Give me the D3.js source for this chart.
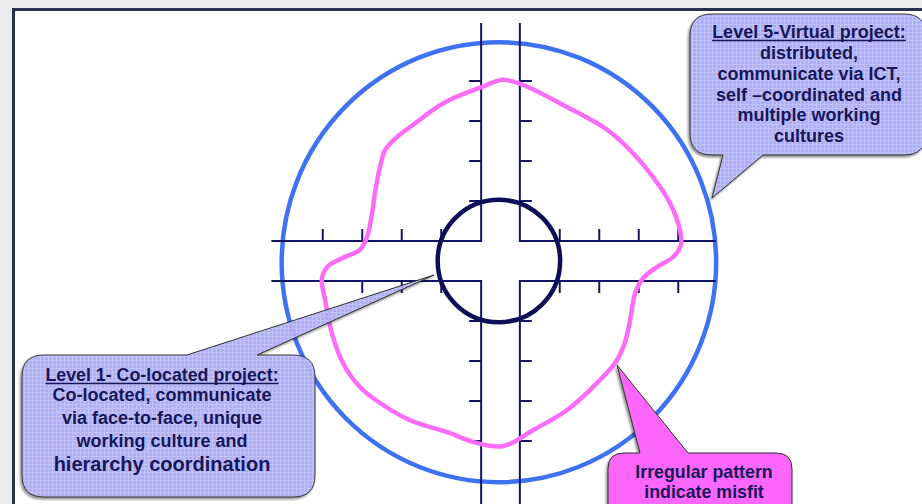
<!DOCTYPE html>
<html>
<head>
<meta charset="utf-8">
<script src="https://cdn.jsdelivr.net/npm/d3@7"></script>
<style>
  body { margin: 0; background: #ebebeb; }
  svg { display: block; }
  .callout text { font-family: "Liberation Sans", Arial, sans-serif; font-weight: bold; fill: #17175a; }
</style>
</head>
<body>
<div id="chart"></div>
<script>
// tick positions along each arm of the cross (in tick units from centre)
const xTicks = [-4.5, -3.5, -2.5, -1.5, 1.5, 2.5, 3.5, 4.5];
const yTicks = [-4.5, -3.5, -2.5, -1.5, 1.5, 2.5, 3.5, 4.5];

// ring sizes (same units)
const innerRing = 1.55;
const outerRing = 5.5;

// the irregular profile of a project, clockwise from the top
const profileX = [0.06, 0.57, 1.68, 2.70, 3.35, 3.86, 4.29, 4.54, 4.57, 4.37, 3.96, 3.61, 3.41, 3.28,
  3.13, 2.90, 2.34, 1.68, 0.82, 0.06, -0.77, -1.28, -2.29, -3.05, -3.56, -3.99, -4.27, -4.44,
  -4.52, -4.37, -3.99, -3.56, -3.38, -3.25, -3.18, -3.05, -2.92, -2.62, -2.11, -1.71, -1.28, -0.47];
const profileY = [4.53, 4.40, 3.85, 3.28, 2.70, 2.10, 1.45, 0.78, 0.40, 0.10, -0.15, -0.43, -0.80, -1.48,
  -2.10, -2.55, -3.15, -3.73, -4.23, -4.63, -4.50, -4.30, -3.98, -3.55, -3.15, -2.55, -1.80, -0.98,
  -0.43, -0.13, 0.08, 0.28, 0.60, 1.20, 1.70, 2.35, 2.78, 3.10, 3.48, 3.78, 4.03, 4.35];

// callout texts
const level5Title = 'Level 5-Virtual project:';
const level5Lines = ['distributed,', 'communicate via ICT,', 'self \u2013coordinated and', 'multiple working', 'cultures'];
const level1Title = 'Level 1- Co-located project:';
const level1Lines = ['Co-located, communicate', 'via face-to-face, unique', 'working culture and'];
const level1Last = 'hierarchy coordination';
const misfitLines = ['Irregular pattern', 'indicate misfit'];

const width = 922, height = 504;

const svg = d3.select('#chart').append('svg')
    .attr('width', width)
    .attr('height', height);

// slide frame
svg.append('rect')
    .attr('x', 0).attr('y', 0).attr('width', width).attr('height', height)
    .attr('fill', '#ebebeb');
svg.append('rect')
    .attr('x', 13.5).attr('y', 9.5).attr('width', width + 20).attr('height', height + 20)
    .attr('fill', '#fff')
    .attr('stroke', '#28304d')
    .attr('stroke-width', 3);

// scales: one unit = one tick step
const x = d3.scaleLinear().domain([-6, 6]).range([500.5 - 6 * 39.5, 500.5 + 6 * 39.5]);
const y = d3.scaleLinear().domain([-6, 6]).range([261 + 6 * 40, 261 - 6 * 40]);

const g = svg.append('g');

// outer ring (level 5)
g.append('ellipse')
    .attr('cx', x(-0.04)).attr('cy', y(-0.03))
    .attr('rx', x(outerRing) - x(0)).attr('ry', y(0) - y(outerRing))
    .attr('fill', 'none')
    .attr('stroke', '#3f72f3')
    .attr('stroke-width', 4.5);

// cross shaped axes
const half = 0.5, hw = 0.49;
const armL = -5.8, armR = 5.45, armT = 5.95, armB = -6.2;
const cross = [
    [[armL, half], [-hw, half], [-hw, armT]],
    [[hw, armT], [hw, half], [armR, half]],
    [[armR, -half], [hw, -half], [hw, armB]],
    [[-hw, armB], [-hw, -half], [armL, -half]]
];
const axisLine = d3.line().x(d => x(d[0])).y(d => y(d[1]));
g.selectAll('.arm')
    .data(cross)
    .join('path')
    .attr('class', 'arm')
    .attr('d', axisLine)
    .attr('fill', 'none')
    .attr('stroke', '#141466')
    .attr('stroke-width', 2);

const tickLen = 12;
// ticks on horizontal arms: up on upper line, down on lower line
g.selectAll('.tick-up')
    .data(xTicks)
    .join('line')
    .attr('x1', d => x(d)).attr('x2', d => x(d))
    .attr('y1', y(half)).attr('y2', y(half) - tickLen)
    .attr('stroke', '#141466').attr('stroke-width', 2);
g.selectAll('.tick-down')
    .data(xTicks)
    .join('line')
    .attr('x1', d => x(d)).attr('x2', d => x(d))
    .attr('y1', y(-half)).attr('y2', y(-half) + tickLen)
    .attr('stroke', '#141466').attr('stroke-width', 2);
// ticks on vertical arms: left on left line, right on right line
g.selectAll('.tick-left')
    .data(yTicks)
    .join('line')
    .attr('y1', d => y(d)).attr('y2', d => y(d))
    .attr('x1', x(-hw)).attr('x2', x(-hw) - tickLen)
    .attr('stroke', '#141466').attr('stroke-width', 2);
g.selectAll('.tick-right')
    .data(yTicks)
    .join('line')
    .attr('y1', d => y(d)).attr('y2', d => y(d))
    .attr('x1', x(hw)).attr('x2', x(hw) + tickLen)
    .attr('stroke', '#141466').attr('stroke-width', 2);

// irregular profile
const profile = profileX.map((v, i) => [v, profileY[i]]);
g.append('path')
    .datum(profile)
    .attr('d', d3.line().x(d => x(d[0])).y(d => y(d[1])).curve(d3.curveCatmullRomClosed.alpha(0.5)))
    .attr('fill', 'none')
    .attr('stroke', '#fd6cf9')
    .attr('stroke-width', 4.5);

// inner ring (level 1)
g.append('circle')
    .attr('cx', x(-0.04)).attr('cy', y(0))
    .attr('r', x(innerRing) - x(0))
    .attr('fill', 'none')
    .attr('stroke', '#0e0e58')
    .attr('stroke-width', 4.5);

// callouts
const defs = svg.append('defs');
const pat = defs.append('pattern')
    .attr('id', 'grid')
    .attr('width', 4).attr('height', 4)
    .attr('patternUnits', 'userSpaceOnUse');
pat.append('rect').attr('width', 4).attr('height', 4).attr('fill', '#aeaefa');
pat.append('path').attr('d', 'M0,0.5H4M0.5,0V4').attr('stroke', '#c2c2fd').attr('stroke-width', 1);

const shadow = defs.append('filter').attr('id', 'shadow')
    .attr('x', '-10%').attr('y', '-10%').attr('width', '130%').attr('height', '130%');
shadow.append('feDropShadow')
    .attr('dx', -1.5).attr('dy', 2).attr('stdDeviation', 0.8)
    .attr('flood-color', '#000').attr('flood-opacity', 0.45);

// rounded box with a tail leaving one horizontal side
function bubble(x0, y0, x1, y1, r, tail) {
    const p = d3.path();
    p.moveTo(x0 + r, y0);
    if (tail.side === 'top') {
        p.lineTo(tail.a, y0);
        p.lineTo(tail.tx, tail.ty);
        p.lineTo(tail.b, y0);
    }
    p.lineTo(x1 - r, y0);
    p.quadraticCurveTo(x1, y0, x1, y0 + r);
    p.lineTo(x1, y1 - r);
    p.quadraticCurveTo(x1, y1, x1 - r, y1);
    if (tail.side === 'bottom') {
        p.lineTo(tail.b, y1);
        p.lineTo(tail.tx, tail.ty);
        p.lineTo(tail.a, y1);
    }
    p.lineTo(x0 + r, y1);
    p.quadraticCurveTo(x0, y1, x0, y1 - r);
    p.lineTo(x0, y0 + r);
    p.quadraticCurveTo(x0, y0, x0 + r, y0);
    p.closePath();
    return p.toString();
}

function titleWithUnderline(sel, text, cx, cy, size) {
    const t = sel.append('text')
        .attr('x', cx).attr('y', cy)
        .attr('text-anchor', 'middle')
        .attr('font-size', size)
        .text(text);
    const w = t.node().getComputedTextLength();
    sel.append('line')
        .attr('x1', cx - w / 2).attr('x2', cx + w / 2)
        .attr('y1', cy + 2.5).attr('y2', cy + 2.5)
        .attr('stroke', '#17175a').attr('stroke-width', 1.4);
}

// level 5 callout
const c5 = svg.append('g').attr('class', 'callout');
c5.append('path')
    .attr('d', bubble(690, 14, 926, 155, 22, {side: 'bottom', a: 723, b: 763, tx: 712, ty: 198}))
    .attr('fill', 'url(#grid)')
    .attr('fill-opacity', 0.95)
    .attr('stroke', '#333')
    .attr('stroke-width', 1)
    .attr('filter', 'url(#shadow)');
titleWithUnderline(c5, level5Title, 809, 38, 18);
c5.selectAll('.l5')
    .data(level5Lines)
    .join('text')
    .attr('x', 809)
    .attr('y', (d, i) => 59 + i * 20.8)
    .attr('text-anchor', 'middle')
    .attr('font-size', 18)
    .text(d => d);

// level 1 callout
const c1 = svg.append('g').attr('class', 'callout');
c1.append('path')
    .attr('d', bubble(22, 355, 315, 497, 22, {side: 'top', a: 187, b: 257, tx: 434, ty: 275}))
    .attr('fill', 'url(#grid)')
    .attr('fill-opacity', 0.92)
    .attr('stroke', '#333')
    .attr('stroke-width', 1)
    .attr('filter', 'url(#shadow)');
titleWithUnderline(c1, level1Title, 162, 381, 17.8);
c1.selectAll('.l1')
    .data(level1Lines)
    .join('text')
    .attr('x', 162)
    .attr('y', (d, i) => 401 + i * 23)
    .attr('text-anchor', 'middle')
    .attr('font-size', 18)
    .text(d => d);
c1.append('text')
    .attr('x', 162).attr('y', 471)
    .attr('text-anchor', 'middle')
    .attr('font-size', 20)
    .text(level1Last);

// misfit callout
const cm = svg.append('g').attr('class', 'callout');
cm.append('path')
    .attr('d', bubble(608, 453, 792, 520, 16, {side: 'top', a: 640, b: 688, tx: 617, ty: 365}))
    .attr('fill', '#fd66fb')
    .attr('stroke', '#333')
    .attr('stroke-width', 1)
    .attr('filter', 'url(#shadow)');
cm.selectAll('.lm')
    .data(misfitLines)
    .join('text')
    .attr('x', 704)
    .attr('y', (d, i) => 478 + i * 20)
    .attr('text-anchor', 'middle')
    .attr('font-size', 17.8)
    .text(d => d);
</script>
</body>
</html>
